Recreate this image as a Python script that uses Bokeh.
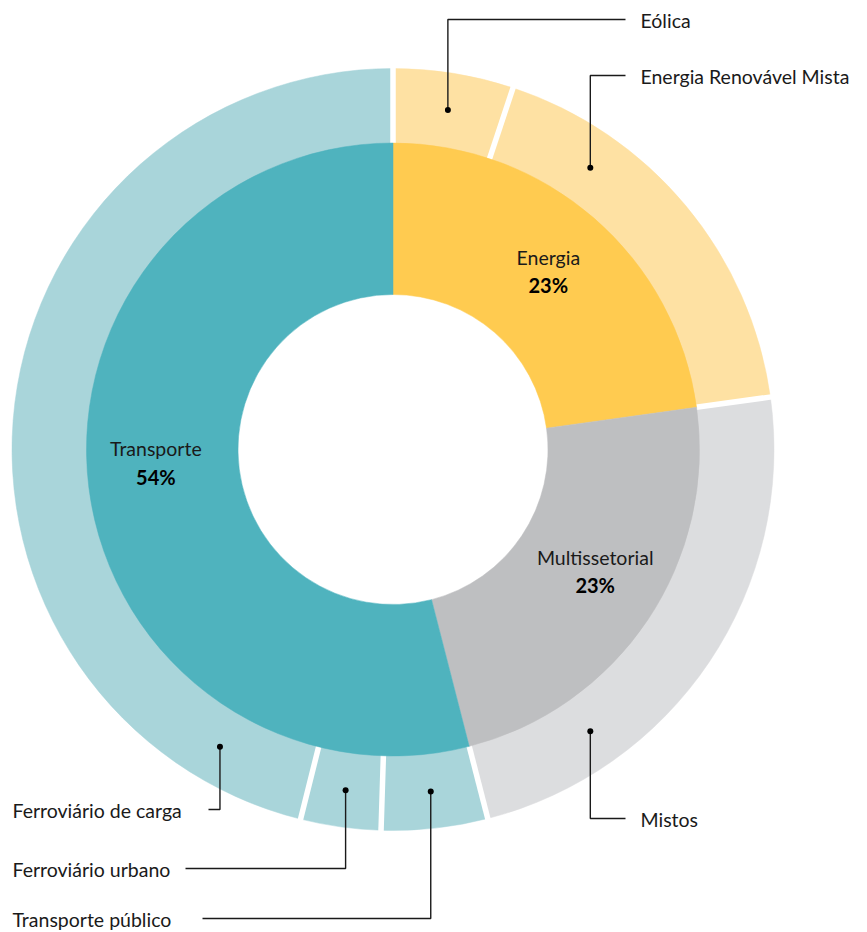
import math
from bokeh.plotting import figure
from bokeh.models import Range1d, ColumnDataSource
from bokeh.embed import file_html
from bokeh.resources import INLINE
from bokeh.core.properties import value

# ---------------- data ----------------
sectors = ["Energia", "Multissetorial", "Transporte"]
sub_labels = ["Eólica", "Energia Renovável Mista", "Mistos",
              "Transporte público", "Ferroviário urbano", "Ferroviário de carga"]
sub_parent = ["Energia", "Energia", "Multissetorial",
              "Transporte", "Transporte", "Transporte"]
sub_values = [5.1, 17.7, 23.2, 4.5, 3.4, 46.1]

sector_values = [sum(v for v, s in zip(sub_values, sub_parent) if s == name) for name in sectors]

# ---------------- style / layout ----------------
W, H = 867, 932
CX, CY = 392.5, 483.0
R_HOLE, R_MID, R_OUT = 155.0, 306.5, 381.0
FONT = "Lato"
FS = "19.5px"
sector_color = {"Energia": "#ffcb50", "Multissetorial": "#bebfc1", "Transporte": "#4fb3be"}
sub_color = {"Energia": "#fee1a3", "Multissetorial": "#dcdddf", "Transporte": "#a9d5da"}

callout_angle = [None, 55.0, -55.0, None, None, -120.2]
callout_y = [913, 857, 114, 14, 64, 123]
callout_side = ["right", "right", "right", "left", "left", "left"]
line_end_x = [625, 625, 625, 202, 185, 208]
text_x = [640, 640, 640, 12, 12, 12]
DOT_R = 344.0
LABEL_R = 235.0
label_shift = [(1, 1), (7, 9), (-4, 16)]

total = float(sum(sub_values))


def ang(c):
    return math.pi / 2 - 2 * math.pi * c / total


def spans(vals):
    out = []
    c = 0.0
    for v in vals:
        out.append((c, c + v))
        c += v
    return out


p = figure(width=W, height=H, x_range=Range1d(0, W), y_range=Range1d(0, H),
           output_backend="svg", toolbar_location=None, min_border=0,
           x_axis_location=None, y_axis_location=None)
p.grid.visible = False
p.outline_line_color = None
p.background_fill_color = "white"
p.border_fill_color = "white"

# outer ring
osp = spans(sub_values)
outer = ColumnDataSource(dict(
    start=[ang(b) for a, b in osp],
    end=[ang(a) for a, b in osp],
    color=[sub_color[s] for s in sub_parent],
))
p.annular_wedge(x=CX, y=CY, inner_radius=R_MID - 2, outer_radius=R_OUT,
                start_angle="start", end_angle="end", direction="anticlock",
                fill_color="color", line_color="color", line_width=0.5, source=outer)

# white separators in the outer ring
gx0, gy0, gx1, gy1 = [], [], [], []
for a, b in osp:
    t = ang(a)
    gx0.append(CX + (R_MID - 6) * math.cos(t))
    gy0.append(CY + (R_MID - 6) * math.sin(t))
    gx1.append(CX + (R_OUT + 8) * math.cos(t))
    gy1.append(CY + (R_OUT + 8) * math.sin(t))
p.segment(x0=gx0, y0=gy0, x1=gx1, y1=gy1, line_color="white", line_width=5.5)

# inner ring
isp = spans(sector_values)
inner = ColumnDataSource(dict(
    start=[ang(b) for a, b in isp],
    end=[ang(a) for a, b in isp],
    color=[sector_color[s] for s in sectors],
))
p.annular_wedge(x=CX, y=CY, inner_radius=R_HOLE, outer_radius=R_MID,
                start_angle="start", end_angle="end", direction="anticlock",
                fill_color="color", line_color="color", line_width=0.5, source=inner)

# inner labels
nx, ny, px_, py_, pct = [], [], [], [], []
for (a, b), v, (sx, sy) in zip(isp, sector_values, label_shift):
    t = ang((a + b) / 2)
    x = CX + LABEL_R * math.cos(t) + sx
    y = CY + LABEL_R * math.sin(t) + sy
    nx.append(x); ny.append(y + 14)
    px_.append(x); py_.append(y - 14)
    pct.append(f"{round(v)}%")
p.text(x=nx, y=ny, text=sectors, text_font=value(FONT), text_font_size=FS,
       text_color="#1a1a1a", text_align="center", text_baseline="alphabetic")
p.text(x=px_, y=py_, text=pct, text_font=value(FONT), text_font_size="20px",
       text_font_style="bold", text_color="#000000", text_align="center",
       text_baseline="alphabetic")

# callouts
dx, dy, lxs, lys = [], [], [], []
tx, ty, tl = [], [], []
for i, (a, b) in enumerate(osp):
    deg = callout_angle[i]
    t = math.radians(deg) if deg is not None else ang((a + b) / 2)
    x0 = CX + DOT_R * math.cos(t)
    y0 = CY + DOT_R * math.sin(t)
    dx.append(x0); dy.append(y0)
    lxs.append([x0, x0, line_end_x[i]])
    lys.append([y0, callout_y[i], callout_y[i]])
    tx.append(text_x[i]); ty.append(callout_y[i] - 1)
    tl.append(sub_labels[i])
p.multi_line(xs=lxs, ys=lys, line_color="#1a1a1a", line_width=1.4)
p.scatter(x=dx, y=dy, size=6, fill_color="#000000", line_color=None)
p.text(x=tx, y=ty, text=tl, text_font=value(FONT), text_font_size=FS,
       text_color="#1a1a1a", text_align="left", text_baseline="alphabetic")

open("out.html", "w").write(file_html(p, INLINE))
